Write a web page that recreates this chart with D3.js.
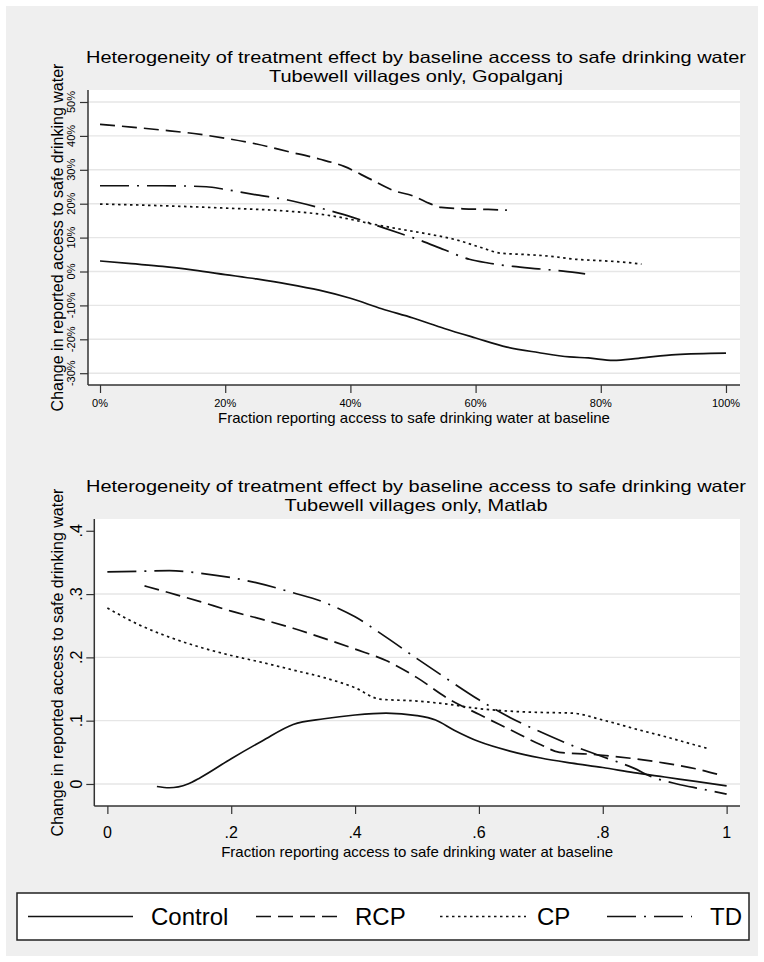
<!DOCTYPE html>
<html><head><meta charset="utf-8">
<script src="https://cdn.jsdelivr.net/npm/d3@7"></script>
<style>
body{margin:0;background:#fff}
svg{display:block}
text{font-family:"Liberation Sans",Arial,Helvetica,sans-serif;fill:#000}
</style>
</head><body>
<svg id="chart" width="764" height="962"></svg>
<script>
// ---------- data ----------
const seriesNames = ["Control", "RCP", "CP", "TD"];
const titleLine1 = "Heterogeneity of treatment effect by baseline access to safe drinking water";
const topSubtitle = "Tubewell villages only, Gopalganj";
const bottomSubtitle = "Tubewell villages only, Matlab";
const yAxisTitle = "Change in reported access to safe drinking water";
const xAxisTitle = "Fraction reporting access to safe drinking water at baseline";

// Top panel (Gopalganj): x = % at baseline, y = % change
const topXTicks = [0, 20, 40, 60, 80, 100];
const topYTicks = [-30, -20, -10, 0, 10, 20, 30, 40, 50];
const gopControl = [[0,3.1],[5,2.3],[10,1.5],[15,0.4],[20,-0.9],[25,-2.2],[30,-3.7],[35,-5.5],[40,-7.9],[45,-11.0],[50,-13.7],[55,-16.8],[60,-19.6],[65,-22.3],[70,-23.9],[75,-25.2],[78,-25.5],[82,-26.2],[86,-25.6],[92,-24.5],[100,-24.1]];
const gopRCP = [[0,43.4],[5,42.6],[10,41.7],[15,40.7],[20,39.3],[25,37.6],[30,35.4],[35,33.2],[39,31.0],[43,27.4],[47,23.8],[50,22.3],[52,20.6],[54.5,18.9],[58,18.5],[62,18.3],[65,18.1]];
const gopCP = [[0,19.9],[10,19.4],[20,18.7],[30,17.8],[36,16.7],[40,15.4],[43,14.2],[47,12.8],[52,11.2],[57,9.3],[61,7.0],[64,5.4],[68,5.0],[72,4.5],[76,3.6],[80,3.2],[84,2.7],[86.5,2.2]];
const gopTD = [[0,25.3],[5,25.3],[10,25.3],[17,25.0],[20,24.2],[25,22.6],[30,21.1],[36,18.3],[40,16.2],[44,13.7],[48,11.2],[51,9.3],[55,6.4],[59,3.6],[62,2.5],[66,1.5],[70,0.8],[74,0.1],[77.5,-0.7]];

// Bottom panel (Matlab): x = fraction, y = change
const botXTicks = [0, 0.2, 0.4, 0.6, 0.8, 1];
const botYTicks = [0, 0.1, 0.2, 0.3, 0.4];
const botGridTicks = [0, 0.1, 0.2, 0.3];
const matControl = [[0.08,-0.004],[0.1,-0.006],[0.13,0.0],[0.15,0.01],[0.2,0.04],[0.25,0.068],[0.3,0.094],[0.35,0.103],[0.4,0.109],[0.45,0.112],[0.5,0.108],[0.53,0.101],[0.56,0.085],[0.6,0.067],[0.65,0.052],[0.7,0.041],[0.75,0.033],[0.8,0.026],[0.85,0.018],[0.9,0.011],[0.95,0.004],[1.0,-0.003]];
const matRCP = [[0.06,0.313],[0.1,0.302],[0.15,0.288],[0.2,0.273],[0.25,0.26],[0.3,0.246],[0.35,0.23],[0.4,0.213],[0.45,0.195],[0.5,0.168],[0.55,0.135],[0.6,0.11],[0.65,0.086],[0.7,0.062],[0.73,0.05],[0.78,0.047],[0.85,0.04],[0.9,0.033],[0.95,0.024],[0.99,0.014]];
const matCP = [[0,0.278],[0.05,0.252],[0.1,0.232],[0.15,0.216],[0.2,0.203],[0.25,0.192],[0.3,0.18],[0.35,0.168],[0.4,0.152],[0.44,0.134],[0.5,0.131],[0.55,0.126],[0.6,0.119],[0.65,0.115],[0.7,0.113],[0.75,0.112],[0.8,0.101],[0.86,0.085],[0.9,0.075],[0.94,0.064],[0.97,0.056]];
const matTD = [[0,0.335],[0.05,0.336],[0.1,0.337],[0.15,0.333],[0.2,0.326],[0.24,0.318],[0.3,0.302],[0.35,0.287],[0.4,0.264],[0.45,0.232],[0.5,0.198],[0.55,0.165],[0.6,0.133],[0.65,0.105],[0.7,0.082],[0.75,0.061],[0.8,0.043],[0.85,0.025],[0.88,0.011],[0.92,0.0],[0.96,-0.008],[1.0,-0.016]];

// ---------- styles ----------
const dashes = {Control: null, RCP: "15,7", CP: "2.5,3.5", TD: "29,8,2,8"};
const ink = "#111";
const gridColor = "#e6e6e6";
const axisColor = "#333";

const svg = d3.select("#chart");
svg.append("rect").attr("x", 6).attr("y", 6).attr("width", 752).attr("height", 950).attr("fill", "#efefef");

function panel(cfg) {
  const g = svg.append("g");
  const {left, right, top, bottom} = cfg.box;
  const x = d3.scaleLinear().domain(cfg.xDomain).range([left, right]);
  const y = d3.scaleLinear().domain(cfg.yDomain).range([bottom, top]);
  g.append("rect").attr("x", left).attr("y", top).attr("width", right - left).attr("height", bottom - top).attr("fill", "#fff");
  // grid
  g.selectAll(".grid").data(cfg.gridTicks).join("line")
    .attr("x1", left).attr("x2", right)
    .attr("y1", d => y(d)).attr("y2", d => y(d))
    .attr("stroke", gridColor).attr("stroke-width", 1.4);
  // y axis
  const ya = g.append("g").attr("transform", `translate(${left},0)`)
    .call(d3.axisLeft(y).tickValues(cfg.yTicks).tickSize(8).tickFormat(""));
  ya.select(".domain").attr("stroke", axisColor).attr("stroke-width", 1.5).attr("d", `M0,${top}V${bottom}`);
  ya.selectAll(".tick line").attr("stroke", axisColor).attr("stroke-width", 1.2);
  // y tick labels (rotated)
  g.selectAll(".ylab").data(cfg.yTicks).join("text")
    .attr("transform", d => `translate(${cfg.yLabX},${y(d)}) rotate(-90)`)
    .attr("text-anchor", "middle")
    .style("font-size", cfg.yLabSize + "px")
    .text(cfg.yFmt);
  // x axis
  const xa = g.append("g").attr("transform", `translate(0,${bottom})`)
    .call(d3.axisBottom(x).tickValues(cfg.xTicks).tickSize(8).tickFormat(""));
  xa.select(".domain").attr("stroke", axisColor).attr("stroke-width", 1.5).attr("d", `M${left},0H${right}`);
  xa.selectAll(".tick line").attr("stroke", axisColor).attr("stroke-width", 1.2);
  g.selectAll(".xlab").data(cfg.xTicks).join("text")
    .attr("x", d => x(d)).attr("y", cfg.xLabY)
    .attr("text-anchor", "middle")
    .style("font-size", cfg.xLabSize + "px")
    .text(cfg.xFmt);
  // titles (slightly stretched horizontally, like the condensed Stata title font)
  const cx = 416;
  const t1 = g.append("text").attr("x", cx).attr("y", top - cfg.t1).attr("text-anchor", "middle")
    .style("font-size", "16.5px").text(titleLine1);
  const w1 = t1.node().getComputedTextLength();
  const stretch = 660 / w1;
  t1.attr("textLength", 660).attr("lengthAdjust", "spacingAndGlyphs");
  const t2 = g.append("text").attr("x", cx).attr("y", top - cfg.t2).attr("text-anchor", "middle")
    .style("font-size", "16.5px").text(cfg.subtitle);
  const w2 = t2.node().getComputedTextLength();
  t2.attr("textLength", w2 * stretch).attr("lengthAdjust", "spacingAndGlyphs");
  g.append("text").attr("transform", `translate(62.5,${(top + bottom) / 2}) rotate(-90)`)
    .attr("text-anchor", "middle").style("font-size", "16px").text(yAxisTitle);
  g.append("text").attr("x", (left + right) / 2).attr("y", cfg.xTitleY)
    .attr("text-anchor", "middle").style("font-size", "15px").text(xAxisTitle);
  // lines
  const line = d3.line().x(d => x(d[0])).y(d => y(d[1])).curve(d3.curveMonotoneX);
  cfg.series.forEach((s, i) => {
    g.append("path").datum(s).attr("d", line)
      .attr("fill", "none").attr("stroke", ink).attr("stroke-width", 1.7)
      .attr("stroke-dasharray", dashes[seriesNames[i]]);
  });
}

// top panel: 0% at x=100, 100% at x=726; 0% at y=271.5, 3.39 px per %
panel({
  box: {left: 88, right: 740, top: 90, bottom: 385},
  xDomain: [-1.92, 102.24], yDomain: [-33.48, 53.54],
  xTicks: topXTicks, yTicks: topYTicks, gridTicks: topYTicks,
  xFmt: d => d + "%", yFmt: d => d + "%",
  yLabX: 74.5, yLabSize: 11, xLabY: 407, xLabSize: 11, xTitleY: 423,
  subtitle: topSubtitle, t1: 27, t2: 8,
  series: [gopControl, gopRCP, gopCP, gopTD]
});

// bottom panel: 0 at x=107.3, 1 at x=726; 0 at y=784, 633 px per unit
const stataFmt = d => d === 0 ? "0" : d === 1 ? "1" : String(d).replace(/^0/, "");
panel({
  box: {left: 94.3, right: 740, top: 519, bottom: 806},
  xDomain: [-0.0211, 1.0216], yDomain: [-0.0348, 0.4186],
  xTicks: botXTicks, yTicks: botYTicks, gridTicks: botGridTicks,
  xFmt: stataFmt, yFmt: stataFmt,
  yLabX: 81.5, yLabSize: 16, xLabY: 838, xLabSize: 16, xTitleY: 857,
  subtitle: bottomSubtitle, t1: 27, t2: 8,
  series: [matControl, matRCP, matCP, matTD]
});

// legend
const lg = svg.append("g");
lg.append("rect").attr("x", 17).attr("y", 893).attr("width", 732).attr("height", 47)
  .attr("fill", "#fff").attr("stroke", "#222").attr("stroke-width", 1.5);
const legendKeys = [[28, 133, 151], [256, 337, 355], [440, 526, 537], [607, 692, 710]];
seriesNames.forEach((name, i) => {
  const k = legendKeys[i];
  lg.append("line").attr("x1", k[0]).attr("x2", k[1]).attr("y1", 916.5).attr("y2", 916.5)
    .attr("stroke", ink).attr("stroke-width", 1.7).attr("stroke-dasharray", dashes[name]);
  lg.append("text").attr("x", k[2]).attr("y", 925).style("font-size", "24px").text(name);
});
</script>
</body></html>
